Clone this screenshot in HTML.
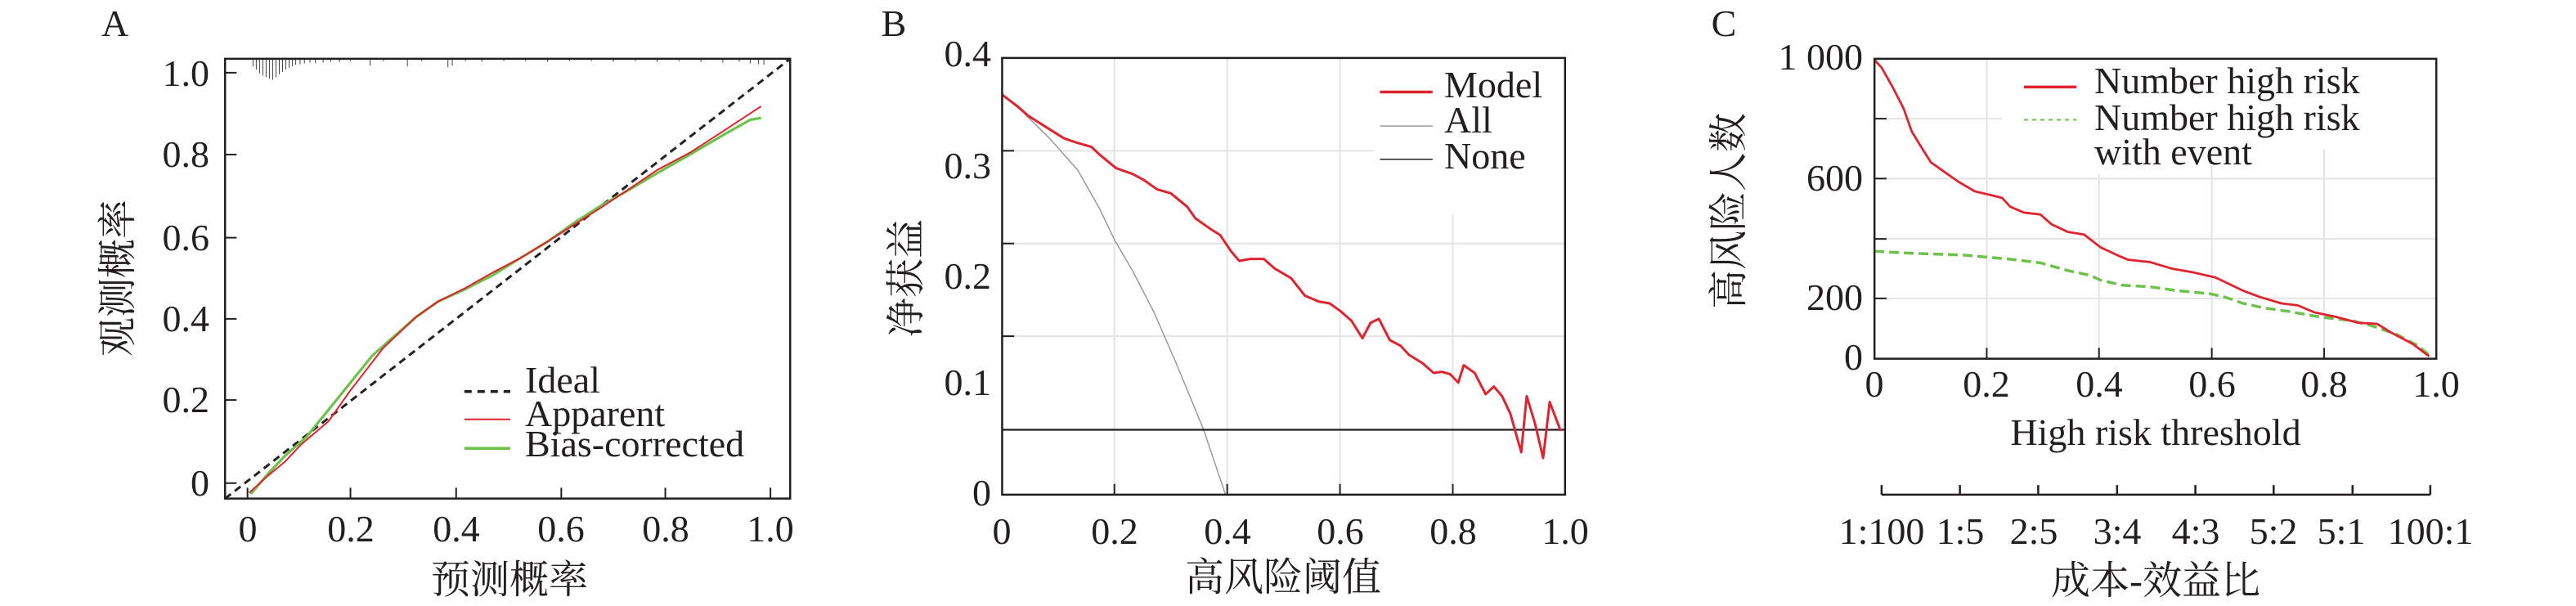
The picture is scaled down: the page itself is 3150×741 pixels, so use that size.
<!DOCTYPE html>
<html><head><meta charset="utf-8"><style>
html,body{margin:0;padding:0;background:#fff;}
svg{display:block;font-family:"Liberation Serif","Noto Serif CJK SC",serif;}
text{font-family:"Liberation Serif","Noto Serif CJK SC",serif;fill:#231f20;}
.t{font-size:46px;}
.c{font-size:48px;}
</style></head><body>
<svg width="3150" height="741" viewBox="0 0 3150 741" xmlns="http://www.w3.org/2000/svg" font-family="Liberation Serif, Noto Serif CJK SC, serif">
<rect width="3150" height="741" fill="#fff"/>

<!-- ================= PANEL A ================= -->
<g transform="scale(0.6696,0.4726)" fill="none">
  <g stroke="#444" stroke-width="1">
    <path vector-effect="non-scaling-stroke" d="M462 152V172M468 152V180M474 152V190M480 152V196M486 152V200M492 152V204M498 152V206M504 152V200M510 152V192M516 152V186M522 152V180M528 152V176M534 152V172M540 152V168M548 152V166M556 152V164M566 152V162M576 152V164M590 152V162M604 152V160M620 152V160M640 152V158M676 152V170M700 152V158M744 152V172M770 152V158M818 152V174M826 152V170M850 152V158M880 152V160M920 152V158M960 152V158M1000 152V160M1040 152V158M1080 152V158M1120 152V160M1160 152V158M1200 152V160M1240 152V158M1280 152V160M1320 152V162M1350 152V160M1370 152V164M1385 152V166M1395 152V168"/>
  </g>
  <path vector-effect="non-scaling-stroke" d="M411 1290L1443 152" stroke="#222" stroke-width="3" stroke-dasharray="9 6"/>
  <path vector-effect="non-scaling-stroke" stroke="#6cc24a" stroke-width="3.2" stroke-linejoin="round" d="M458 1278L490 1225L520 1180L560 1130L600 1060L640 990L680 920L720 870L760 820L800 780L850 748L900 712L950 668L1000 625L1050 575L1100 530L1150 490L1200 448L1260 400L1320 350L1370 310L1390 305"/>
  <path vector-effect="non-scaling-stroke" stroke="#e0242f" stroke-width="2" stroke-linejoin="round" d="M455 1275L490 1230L520 1195L550 1150L600 1090L640 1010L700 900L760 820L800 780L850 745L900 705L950 668L1000 625L1050 580L1100 535L1150 488L1200 440L1260 395L1320 340L1390 275"/>
  <rect vector-effect="non-scaling-stroke" x="411" y="152" width="1032" height="1138" stroke="#231f20" stroke-width="2.5"/>
  <path vector-effect="non-scaling-stroke" stroke="#231f20" stroke-width="2" d="M411 188H432M411 400H432M411 615H432M411 825H432M411 1035H432M411 1250H432M452 1290V1262M640 1290V1262M833 1290V1262M1025 1290V1262M1215 1290V1262M1407 1290V1262"/>
  <path vector-effect="non-scaling-stroke" stroke="#222" stroke-width="3.5" stroke-dasharray="9 7" d="M848 1013H932"/>
  <path vector-effect="non-scaling-stroke" stroke="#e0242f" stroke-width="2" d="M848 1085H932"/>
  <path vector-effect="non-scaling-stroke" stroke="#6cc24a" stroke-width="3.5" d="M848 1160H932"/>
</g>
<text x="124" y="44" class="t">A</text>
<g class="t" text-anchor="end">
  <text x="256" y="105">1.0</text>
  <text x="256" y="204">0.8</text>
  <text x="256" y="306">0.6</text>
  <text x="256" y="405">0.4</text>
  <text x="256" y="504">0.2</text>
  <text x="256" y="606">0</text>
</g>
<g class="t" text-anchor="middle">
  <text x="303" y="662">0</text>
  <text x="429" y="662">0.2</text>
  <text x="558" y="662">0.4</text>
  <text x="686" y="662">0.6</text>
  <text x="814" y="662">0.8</text>
  <text x="942" y="662">1.0</text>
</g>
<text class="t" x="642" y="480">Ideal</text>
<text class="t" x="642" y="521">Apparent</text>
<text class="t" x="642" y="558">Bias-corrected</text>
<text class="c" x="623" y="725" text-anchor="middle">预测概率</text>
<text class="c" transform="translate(160,340) rotate(-90)" text-anchor="middle">观测概率</text>

<!-- ================= PANEL B ================= -->
<g transform="translate(1050,0) scale(0.6696,0.4726)" fill="none">
  <path vector-effect="non-scaling-stroke" stroke="#e4e4e4" stroke-width="2" d="M467 152V1280M673 152V1280M879 152V1280M1085 555V1280M262 390H940M262 630H1290M262 870H1290"/>
  <path vector-effect="non-scaling-stroke" stroke="#999" stroke-width="1.5" d="M262 245L300 290L350 360L400 440L440 540L467 620L500 700L540 810L580 940L630 1112L670 1280"/>
  <path vector-effect="non-scaling-stroke" stroke="#231f20" stroke-width="2.2" d="M262 1112H1290"/>
  <path vector-effect="non-scaling-stroke" stroke="#e0242f" stroke-width="3" stroke-linejoin="round" d="M262 245L290 275L310 300L330 318L355 340L375 358L400 370L425 380L440 400L470 435L500 450L520 465L545 490L570 500L600 535L615 565L640 590L660 608L680 650L695 675L715 670L740 670L760 695L790 720L815 765L840 780L860 785L880 805L900 830L920 875L935 835L950 825L970 880L990 895L1005 918L1030 940L1050 965L1065 962L1080 968L1095 990L1105 945L1125 965L1145 1020L1160 1000L1175 1025L1190 1070L1210 1170L1220 1025L1235 1095L1250 1185L1262 1040L1282 1115"/>
  <rect vector-effect="non-scaling-stroke" x="262" y="150" width="1028" height="1130" stroke="#231f20" stroke-width="2.5"/>
  <path vector-effect="non-scaling-stroke" stroke="#231f20" stroke-width="2" d="M262 390H284M262 630H284M262 870H284M262 1112H284M467 1280V1252M673 1280V1252M879 1280V1252M1085 1280V1252"/>
  <path vector-effect="non-scaling-stroke" stroke="#e0242f" stroke-width="3.5" d="M952 238H1048"/>
  <path vector-effect="non-scaling-stroke" stroke="#999" stroke-width="1.5" d="M952 326H1048"/>
  <path vector-effect="non-scaling-stroke" stroke="#231f20" stroke-width="1.5" d="M952 412H1048"/>
</g>
<text x="1093" y="44" class="t" text-anchor="middle">B</text>
<g class="t" text-anchor="end">
  <text x="1212" y="81">0.4</text>
  <text x="1212" y="218">0.3</text>
  <text x="1212" y="353">0.2</text>
  <text x="1212" y="483">0.1</text>
  <text x="1212" y="618">0</text>
</g>
<g class="t" text-anchor="middle">
  <text x="1225" y="665">0</text>
  <text x="1363" y="665">0.2</text>
  <text x="1501" y="665">0.4</text>
  <text x="1639" y="665">0.6</text>
  <text x="1777" y="665">0.8</text>
  <text x="1914" y="665">1.0</text>
</g>
<text class="t" x="1766" y="119">Model</text>
<text class="t" x="1766" y="162">All</text>
<text class="t" x="1766" y="206">None</text>
<text class="c" x="1569" y="722" text-anchor="middle">高风险阈值</text>
<text class="c" transform="translate(1124,340) rotate(-90)" text-anchor="middle">净获益</text>

<!-- ================= PANEL C ================= -->
<g transform="translate(2100,0) scale(0.6696,0.4726)" fill="none">
  <path vector-effect="non-scaling-stroke" stroke="#e4e4e4" stroke-width="2" d="M492 152V928M697 450V928M903 430V928M1108 385V928M287 307H520M287 462H1313M287 618H1313M287 772H1313"/>
  <path vector-effect="non-scaling-stroke" stroke="#6cc24a" stroke-width="3.5" stroke-dasharray="12 6" d="M287 650L350 655L450 660L530 670L590 680L640 700L680 712L700 725L740 738L790 742L840 752L900 760L930 770L960 785L1000 797L1040 805L1100 820L1160 830L1200 845L1240 865L1280 895L1305 925"/>
  <path vector-effect="non-scaling-stroke" stroke="#e0242f" stroke-width="2.8" stroke-linejoin="round" d="M287 155L300 175L320 225L340 280L355 340L370 375L390 420L410 440L440 470L470 495L500 505L520 512L535 535L560 550L590 555L610 580L640 600L670 607L700 640L730 660L750 672L790 678L830 695L870 705L910 718L935 735L960 752L990 768L1030 785L1060 790L1090 808L1130 820L1170 835L1205 838L1230 860L1270 890L1300 922"/>
  <rect vector-effect="non-scaling-stroke" x="287" y="152" width="1026" height="776" stroke="#231f20" stroke-width="2.5"/>
  <path vector-effect="non-scaling-stroke" stroke="#231f20" stroke-width="2" d="M287 307H309M287 462H309M287 618H309M287 772H309M492 928V900M697 928V900M903 928V900M1108 928V900"/>
  <path vector-effect="non-scaling-stroke" stroke="#e0242f" stroke-width="3.5" d="M560 225H656"/>
  <path vector-effect="non-scaling-stroke" stroke="#6cc24a" stroke-width="2" stroke-dasharray="5 5" d="M560 310H656"/>
  <path vector-effect="non-scaling-stroke" stroke="#231f20" stroke-width="2.5" d="M300 1280H1302M300 1280V1255M443 1280V1255M586 1280V1255M730 1280V1255M873 1280V1255M1016 1280V1255M1160 1280V1255M1302 1280V1255"/>
</g>
<text x="2108" y="44" class="t" text-anchor="middle">C</text>
<g class="t" text-anchor="end">
  <text x="2278" y="85">1 000</text>
  <text x="2278" y="233">600</text>
  <text x="2278" y="379">200</text>
  <text x="2278" y="452">0</text>
</g>
<g class="t" text-anchor="middle">
  <text x="2292" y="485">0</text>
  <text x="2429" y="485">0.2</text>
  <text x="2567" y="485">0.4</text>
  <text x="2705" y="485">0.6</text>
  <text x="2842" y="485">0.8</text>
  <text x="2979" y="485">1.0</text>
</g>
<text class="t" x="2561" y="114">Number high risk</text>
<text class="t" x="2561" y="159">Number high risk</text>
<text class="t" x="2561" y="201">with event</text>
<text class="t" x="2636" y="544" text-anchor="middle">High risk threshold</text>
<g class="t" text-anchor="middle">
  <text x="2301" y="665">1:100</text>
  <text x="2397" y="665">1:5</text>
  <text x="2487" y="665">2:5</text>
  <text x="2589" y="665">3:4</text>
  <text x="2685" y="665">4:3</text>
  <text x="2780" y="665">5:2</text>
  <text x="2863" y="665">5:1</text>
  <text x="2972" y="665">100:1</text>
</g>
<text class="c" x="2636" y="726" text-anchor="middle">成本-效益比</text>
<text class="c" transform="translate(2130,258) rotate(-90)" text-anchor="middle">高风险人数</text>
</svg>
</body></html>
